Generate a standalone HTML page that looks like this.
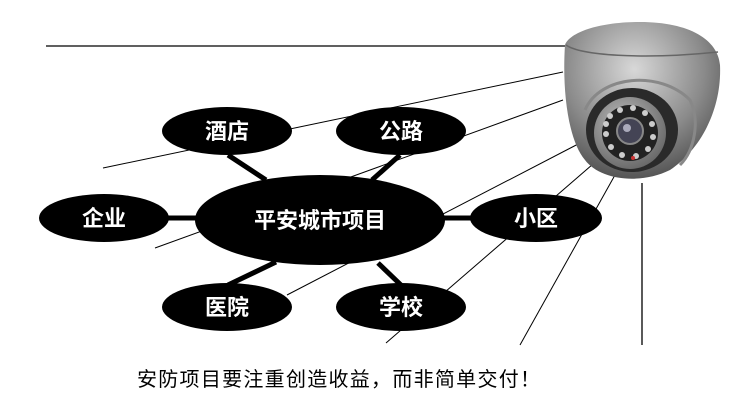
<!DOCTYPE html>
<html><head><meta charset="utf-8"><style>
html,body{margin:0;padding:0;background:#fff;width:729px;height:404px;overflow:hidden}
svg{display:block}
.t{font-family:"Liberation Sans","Noto Sans CJK SC",sans-serif;font-weight:bold;fill:#fff;font-size:22px}
</style></head><body>
<svg width="729" height="404" viewBox="0 0 729 404" xmlns="http://www.w3.org/2000/svg">
<defs>
<radialGradient id="dome" cx="0.45" cy="0.3" r="0.75">
<stop offset="0" stop-color="#d8d8d8"/><stop offset="0.6" stop-color="#8a8a8a"/><stop offset="1" stop-color="#4a4a4a"/>
</radialGradient>
<radialGradient id="ring" cx="0.4" cy="0.35" r="0.7">
<stop offset="0" stop-color="#bbb"/><stop offset="1" stop-color="#666"/>
</radialGradient>
</defs>
<g stroke="#000" stroke-width="1" fill="none">
<line x1="46" y1="46" x2="566" y2="46" stroke-width="1.2"/>
<line x1="103" y1="168" x2="563" y2="72"/>
<line x1="155" y1="248" x2="563" y2="100"/>
<line x1="287" y1="295" x2="582" y2="142"/>
<line x1="386" y1="343" x2="600" y2="158"/>
<line x1="520" y1="345" x2="615" y2="175"/>
<line x1="642" y1="183" x2="642" y2="345" stroke-width="1.3"/>
</g>
<g>
<path d="M565,45 C570,32 600,22 640,22 C690,22 718,40 720,65 C722,110 700,150 670,170 C640,185 600,180 585,160 C568,140 562,90 565,45 Z" fill="url(#dome)"/>
<path d="M566,45 C580,55 640,60 718,52" stroke="#666" stroke-width="1.5" fill="none"/>
<ellipse cx="632" cy="130" rx="46" ry="42" fill="#2a2a2a"/>
<path d="M585,110 C600,75 660,70 690,100 C700,120 695,150 680,165" fill="none" stroke="#888" stroke-width="3"/>
<circle cx="630" cy="133" r="36" fill="url(#ring)"/>
<circle cx="630" cy="133" r="28" fill="#222"/>
<circle cx="630" cy="131" r="13" fill="#445" stroke="#888" stroke-width="2"/>
<circle cx="627" cy="128" r="4" fill="#aab"/>
<g fill="#ccc">
<circle cx="610" cy="116" r="3"/><circle cx="620" cy="110" r="3"/><circle cx="633" cy="108" r="3"/><circle cx="645" cy="113" r="3"/><circle cx="652" cy="124" r="3"/><circle cx="653" cy="137" r="3"/><circle cx="648" cy="149" r="3"/><circle cx="636" cy="156" r="3"/><circle cx="622" cy="155" r="3"/><circle cx="611" cy="147" r="3"/><circle cx="606" cy="134" r="3"/><circle cx="606" cy="124" r="3"/>
</g>
<circle cx="633" cy="158" r="2" fill="#c33"/>
</g>
<g stroke="#000" stroke-width="5">
<line x1="228" y1="155" x2="266" y2="180"/>
<line x1="400" y1="155" x2="372" y2="180"/>
<line x1="165" y1="218" x2="198" y2="218"/>
<line x1="442" y1="218" x2="474" y2="218"/>
<line x1="276" y1="262" x2="228" y2="285"/>
<line x1="378" y1="263" x2="402" y2="286"/>
</g>
<g fill="#000">
<ellipse cx="227" cy="131" rx="65" ry="24"/>
<ellipse cx="401" cy="131" rx="65" ry="24"/>
<ellipse cx="104" cy="218" rx="65" ry="24"/>
<ellipse cx="320" cy="220" rx="125" ry="45"/>
<ellipse cx="536" cy="218" rx="66" ry="24"/>
<ellipse cx="227" cy="307" rx="65" ry="24"/>
<ellipse cx="401" cy="307" rx="65" ry="24"/>
</g>
<g class="t" text-anchor="middle">
<text x="227" y="139">酒店</text>
<text x="401" y="139">公路</text>
<text x="104" y="226">企业</text>
<text x="320" y="228">平安城市项目</text>
<text x="536" y="226">小区</text>
<text x="227" y="315">医院</text>
<text x="401" y="315">学校</text>
</g>
<text x="137" y="386" font-family="'Liberation Sans','Noto Sans CJK SC',sans-serif" font-size="20" fill="#000" textLength="403">安防项目要注重创造收益，而非简单交付！</text>
</svg>
</body></html>
